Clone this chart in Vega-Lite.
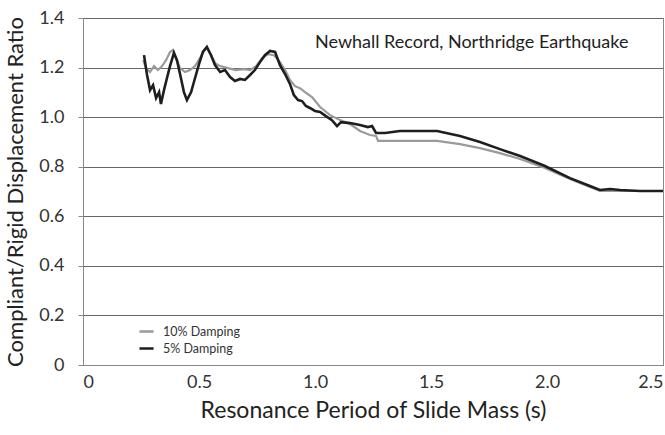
{
  "$schema": "https://vega.github.io/schema/vega-lite/v6.json",
  "width": 580,
  "height": 347,
  "autosize": {"type": "none"},
  "padding": {"left": 83, "top": 18, "right": 2, "bottom": 70},
  "background": "white",
  "config": {
    "font": "Lato",
    "view": {"stroke": "#888", "strokeWidth": 1}
  },
  "datasets": {
    "curves": [
      {"period": 0.259, "ratio": 1.230, "series": "10% Damping"},
      {"period": 0.272, "ratio": 1.198, "series": "10% Damping"},
      {"period": 0.289, "ratio": 1.182, "series": "10% Damping"},
      {"period": 0.306, "ratio": 1.206, "series": "10% Damping"},
      {"period": 0.323, "ratio": 1.190, "series": "10% Damping"},
      {"period": 0.341, "ratio": 1.206, "series": "10% Damping"},
      {"period": 0.358, "ratio": 1.230, "series": "10% Damping"},
      {"period": 0.375, "ratio": 1.263, "series": "10% Damping"},
      {"period": 0.388, "ratio": 1.271, "series": "10% Damping"},
      {"period": 0.401, "ratio": 1.238, "series": "10% Damping"},
      {"period": 0.418, "ratio": 1.198, "series": "10% Damping"},
      {"period": 0.440, "ratio": 1.182, "series": "10% Damping"},
      {"period": 0.461, "ratio": 1.190, "series": "10% Damping"},
      {"period": 0.483, "ratio": 1.206, "series": "10% Damping"},
      {"period": 0.504, "ratio": 1.238, "series": "10% Damping"},
      {"period": 0.522, "ratio": 1.271, "series": "10% Damping"},
      {"period": 0.534, "ratio": 1.279, "series": "10% Damping"},
      {"period": 0.552, "ratio": 1.250, "series": "10% Damping"},
      {"period": 0.569, "ratio": 1.218, "series": "10% Damping"},
      {"period": 0.591, "ratio": 1.206, "series": "10% Damping"},
      {"period": 0.625, "ratio": 1.198, "series": "10% Damping"},
      {"period": 0.659, "ratio": 1.190, "series": "10% Damping"},
      {"period": 0.694, "ratio": 1.194, "series": "10% Damping"},
      {"period": 0.720, "ratio": 1.190, "series": "10% Damping"},
      {"period": 0.746, "ratio": 1.206, "series": "10% Damping"},
      {"period": 0.772, "ratio": 1.238, "series": "10% Damping"},
      {"period": 0.797, "ratio": 1.254, "series": "10% Damping"},
      {"period": 0.823, "ratio": 1.250, "series": "10% Damping"},
      {"period": 0.849, "ratio": 1.222, "series": "10% Damping"},
      {"period": 0.871, "ratio": 1.190, "series": "10% Damping"},
      {"period": 0.892, "ratio": 1.150, "series": "10% Damping"},
      {"period": 0.914, "ratio": 1.125, "series": "10% Damping"},
      {"period": 0.935, "ratio": 1.117, "series": "10% Damping"},
      {"period": 0.957, "ratio": 1.101, "series": "10% Damping"},
      {"period": 0.987, "ratio": 1.081, "series": "10% Damping"},
      {"period": 1.022, "ratio": 1.041, "series": "10% Damping"},
      {"period": 1.065, "ratio": 1.008, "series": "10% Damping"},
      {"period": 1.108, "ratio": 0.988, "series": "10% Damping"},
      {"period": 1.151, "ratio": 0.972, "series": "10% Damping"},
      {"period": 1.194, "ratio": 0.944, "series": "10% Damping"},
      {"period": 1.237, "ratio": 0.928, "series": "10% Damping"},
      {"period": 1.263, "ratio": 0.924, "series": "10% Damping"},
      {"period": 1.272, "ratio": 0.904, "series": "10% Damping"},
      {"period": 1.345, "ratio": 0.904, "series": "10% Damping"},
      {"period": 1.526, "ratio": 0.904, "series": "10% Damping"},
      {"period": 1.625, "ratio": 0.891, "series": "10% Damping"},
      {"period": 1.711, "ratio": 0.875, "series": "10% Damping"},
      {"period": 1.797, "ratio": 0.855, "series": "10% Damping"},
      {"period": 1.884, "ratio": 0.831, "series": "10% Damping"},
      {"period": 1.991, "ratio": 0.795, "series": "10% Damping"},
      {"period": 2.099, "ratio": 0.750, "series": "10% Damping"},
      {"period": 2.185, "ratio": 0.718, "series": "10% Damping"},
      {"period": 2.228, "ratio": 0.702, "series": "10% Damping"},
      {"period": 2.315, "ratio": 0.702, "series": "10% Damping"},
      {"period": 2.5, "ratio": 0.702, "series": "10% Damping"},

      {"period": 0.263, "ratio": 1.250, "series": "5% Damping"},
      {"period": 0.276, "ratio": 1.170, "series": "5% Damping"},
      {"period": 0.289, "ratio": 1.109, "series": "5% Damping"},
      {"period": 0.302, "ratio": 1.129, "series": "5% Damping"},
      {"period": 0.315, "ratio": 1.077, "series": "5% Damping"},
      {"period": 0.328, "ratio": 1.101, "series": "5% Damping"},
      {"period": 0.336, "ratio": 1.053, "series": "5% Damping"},
      {"period": 0.349, "ratio": 1.109, "series": "5% Damping"},
      {"period": 0.362, "ratio": 1.158, "series": "5% Damping"},
      {"period": 0.375, "ratio": 1.206, "series": "5% Damping"},
      {"period": 0.392, "ratio": 1.259, "series": "5% Damping"},
      {"period": 0.405, "ratio": 1.230, "series": "5% Damping"},
      {"period": 0.422, "ratio": 1.158, "series": "5% Damping"},
      {"period": 0.435, "ratio": 1.101, "series": "5% Damping"},
      {"period": 0.448, "ratio": 1.069, "series": "5% Damping"},
      {"period": 0.466, "ratio": 1.101, "series": "5% Damping"},
      {"period": 0.483, "ratio": 1.158, "series": "5% Damping"},
      {"period": 0.500, "ratio": 1.214, "series": "5% Damping"},
      {"period": 0.517, "ratio": 1.263, "series": "5% Damping"},
      {"period": 0.534, "ratio": 1.283, "series": "5% Damping"},
      {"period": 0.552, "ratio": 1.250, "series": "5% Damping"},
      {"period": 0.569, "ratio": 1.210, "series": "5% Damping"},
      {"period": 0.591, "ratio": 1.182, "series": "5% Damping"},
      {"period": 0.612, "ratio": 1.190, "series": "5% Damping"},
      {"period": 0.634, "ratio": 1.162, "series": "5% Damping"},
      {"period": 0.655, "ratio": 1.146, "series": "5% Damping"},
      {"period": 0.677, "ratio": 1.154, "series": "5% Damping"},
      {"period": 0.698, "ratio": 1.150, "series": "5% Damping"},
      {"period": 0.720, "ratio": 1.170, "series": "5% Damping"},
      {"period": 0.741, "ratio": 1.190, "series": "5% Damping"},
      {"period": 0.763, "ratio": 1.222, "series": "5% Damping"},
      {"period": 0.784, "ratio": 1.250, "series": "5% Damping"},
      {"period": 0.806, "ratio": 1.267, "series": "5% Damping"},
      {"period": 0.828, "ratio": 1.263, "series": "5% Damping"},
      {"period": 0.849, "ratio": 1.210, "series": "5% Damping"},
      {"period": 0.871, "ratio": 1.174, "series": "5% Damping"},
      {"period": 0.892, "ratio": 1.134, "series": "5% Damping"},
      {"period": 0.909, "ratio": 1.089, "series": "5% Damping"},
      {"period": 0.927, "ratio": 1.069, "series": "5% Damping"},
      {"period": 0.944, "ratio": 1.065, "series": "5% Damping"},
      {"period": 0.961, "ratio": 1.045, "series": "5% Damping"},
      {"period": 0.978, "ratio": 1.037, "series": "5% Damping"},
      {"period": 1.000, "ratio": 1.025, "series": "5% Damping"},
      {"period": 1.022, "ratio": 1.021, "series": "5% Damping"},
      {"period": 1.047, "ratio": 1.004, "series": "5% Damping"},
      {"period": 1.073, "ratio": 0.988, "series": "5% Damping"},
      {"period": 1.095, "ratio": 0.964, "series": "5% Damping"},
      {"period": 1.112, "ratio": 0.980, "series": "5% Damping"},
      {"period": 1.151, "ratio": 0.976, "series": "5% Damping"},
      {"period": 1.194, "ratio": 0.968, "series": "5% Damping"},
      {"period": 1.228, "ratio": 0.960, "series": "5% Damping"},
      {"period": 1.246, "ratio": 0.964, "series": "5% Damping"},
      {"period": 1.263, "ratio": 0.936, "series": "5% Damping"},
      {"period": 1.302, "ratio": 0.936, "series": "5% Damping"},
      {"period": 1.366, "ratio": 0.944, "series": "5% Damping"},
      {"period": 1.526, "ratio": 0.944, "series": "5% Damping"},
      {"period": 1.625, "ratio": 0.924, "series": "5% Damping"},
      {"period": 1.711, "ratio": 0.900, "series": "5% Damping"},
      {"period": 1.797, "ratio": 0.871, "series": "5% Damping"},
      {"period": 1.884, "ratio": 0.843, "series": "5% Damping"},
      {"period": 1.991, "ratio": 0.803, "series": "5% Damping"},
      {"period": 2.099, "ratio": 0.754, "series": "5% Damping"},
      {"period": 2.185, "ratio": 0.722, "series": "5% Damping"},
      {"period": 2.228, "ratio": 0.706, "series": "5% Damping"},
      {"period": 2.272, "ratio": 0.710, "series": "5% Damping"},
      {"period": 2.315, "ratio": 0.706, "series": "5% Damping"},
      {"period": 2.401, "ratio": 0.702, "series": "5% Damping"},
      {"period": 2.5, "ratio": 0.702, "series": "5% Damping"}
    ],
    "note": [
      {"period": 1.0, "ratio": 1.30, "label": "Newhall Record, Northridge Earthquake"}
    ]
  },
  "layer": [
    {
      "data": {"name": "curves"},
      "transform": [{"filter": "datum.series == '10% Damping'"}],
      "mark": {"type": "line", "strokeWidth": 2.2, "interpolate": "linear"},
      "encoding": {
        "x": {
          "field": "period", "type": "quantitative",
          "scale": {"domain": [0, 2.5], "nice": false},
          "axis": {
            "title": "Resonance Period of Slide Mass (s)",
            "values": [0, 0.5, 1, 1.5, 2, 2.5],
            "labelExpr": "datum.value == 0 ? '0' : format(datum.value, '.1f')",
            "labelFontSize": 18, "labelColor": "#333", "labelFlush": true,
            "labelPadding": 8, "ticks": false, "grid": false,
            "domainColor": "#888",
            "titleFontSize": 23, "titleFontWeight": "normal", "titleColor": "#222",
            "titlePadding": 8
          }
        },
        "y": {
          "field": "ratio", "type": "quantitative",
          "scale": {"domain": [0, 1.4], "nice": false},
          "axis": {
            "title": "Compliant/Rigid Displacement Ratio",
            "values": [0, 0.2, 0.4, 0.6, 0.8, 1.0, 1.2, 1.4],
            "labelExpr": "datum.value == 0 ? '0' : format(datum.value, '.1f')",
            "labelFontSize": 18, "labelColor": "#333",
            "labelPadding": 14, "tickSize": 5, "tickColor": "#888",
            "grid": true, "gridColor": "#666", "gridWidth": 1.2,
            "domainColor": "#888",
            "titleFontSize": 22, "titleFontWeight": "normal", "titleColor": "#222",
            "titlePadding": 11
          }
        },
        "color": {
          "field": "series", "type": "nominal",
          "scale": {"domain": ["10% Damping", "5% Damping"], "range": ["#9a9a9a", "#1e1e1e"]},
          "legend": {
            "title": null, "orient": "none", "legendX": 55, "legendY": 305,
            "symbolType": "stroke", "symbolSize": 200, "symbolStrokeWidth": 2.5,
            "labelFontSize": 12.5, "labelColor": "#333", "rowPadding": 2, "labelOffset": 8
          }
        }
      }
    },
    {
      "data": {"name": "curves"},
      "transform": [{"filter": "datum.series == '5% Damping'"}],
      "mark": {"type": "line", "strokeWidth": 2.6, "interpolate": "linear"},
      "encoding": {
        "x": {"field": "period", "type": "quantitative"},
        "y": {"field": "ratio", "type": "quantitative"},
        "color": {"field": "series", "type": "nominal"}
      }
    },
    {
      "data": {"name": "note"},
      "mark": {"type": "text", "align": "left", "baseline": "middle", "fontSize": 18, "color": "#222"},
      "encoding": {
        "x": {"field": "period", "type": "quantitative"},
        "y": {"field": "ratio", "type": "quantitative"},
        "text": {"field": "label"}
      }
    }
  ]
}
